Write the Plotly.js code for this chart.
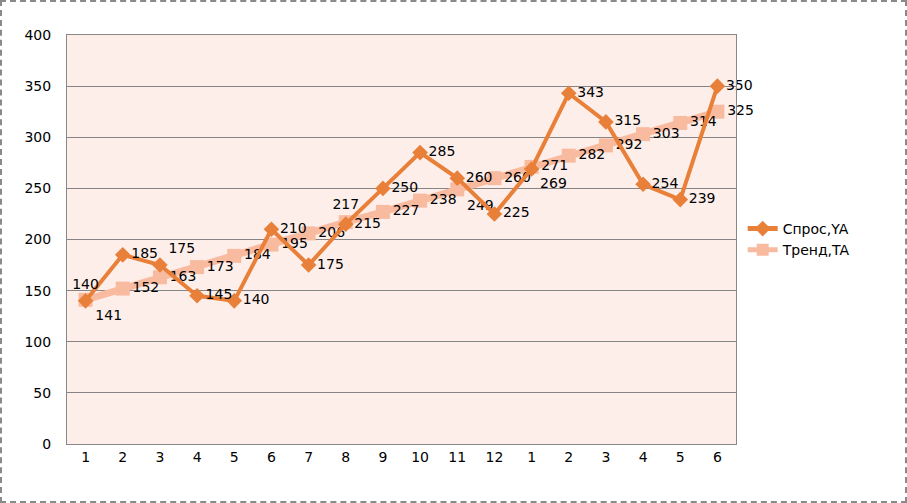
<!DOCTYPE html>
<html><head><meta charset="utf-8">
<script src="https://cdn.plot.ly/plotly-3.0.1.min.js"></script>
<style>html,body{margin:0;padding:0;background:#fff}#chart{width:907px;height:503px;box-sizing:border-box;border:2px dashed #8a8a8a}</style>
</head><body><div id="chart"></div>
<script>
const categories = ["1","2","3","4","5","6","7","8","9","10","11","12","1","2","3","4","5","6"];
const demandYA = [140,185,175,145,140,210,175,215,250,285,260,225,269,343,315,254,239,350];
const trendTA = [141,152,163,173,184,195,206,217,227,238,249,260,271,282,292,303,314,325];
const seriesNames = ["Спрос,YA", "Тренд,TA"];

const xIdx = categories.map((c,i)=>i);
const ft = {family:"DejaVu Sans, Verdana, sans-serif", size:14, color:"#000"};
const posTA = {0:"bottom right", 7:"top center", 10:"bottom right"};
const posYA = {0:"top center", 2:"top right", 12:"bottom right"};
const trendPos = xIdx.map(i => posTA[i] || "middle right");
const demandPos = xIdx.map(i => posYA[i] || "middle right");

const traces = [
 {x:xIdx, y:trendTA, name:seriesNames[1], type:"scatter", mode:"lines+markers+text",
  line:{color:"#F9BBA0", width:7}, marker:{symbol:"square", size:14, color:"#F9BBA0"},
  text:trendTA.map(String), textposition:trendPos, textfont:ft, cliponaxis:false},
 {x:xIdx, y:demandYA, name:seriesNames[0], type:"scatter", mode:"lines+markers+text",
  line:{color:"#E8803A", width:4}, marker:{symbol:"diamond", size:12, color:"#E8803A"},
  text:demandYA.map(String), textposition:demandPos, textfont:ft, cliponaxis:false}
];
const layout = {
 width:903, height:499,
 margin:{l:65, r:169, t:33, b:57},
 paper_bgcolor:"#ffffff", plot_bgcolor:"#FDEEEA",
 showlegend:true,
 legend:{x:1.01, y:0.5, yanchor:"middle", traceorder:"reversed", font:ft, itemsizing:"constant", tracegroupgap:12},
 xaxis:{range:[-0.5,17.5], tickvals:xIdx, ticktext:categories, tickfont:ft, showgrid:false, zeroline:false,
        showline:true, linecolor:"#888", mirror:true, ticks:"", ticklen:0},
 yaxis:{range:[0,400], dtick:50, tickfont:ft, showgrid:true, gridcolor:"#858585", gridwidth:1, zeroline:false,
        showline:true, linecolor:"#888", mirror:true, ticks:"", ticklabelstandoff:12},
 font:ft
};
Plotly.newPlot("chart", traces, layout, {displayModeBar:false, staticPlot:true});
</script></body></html>
